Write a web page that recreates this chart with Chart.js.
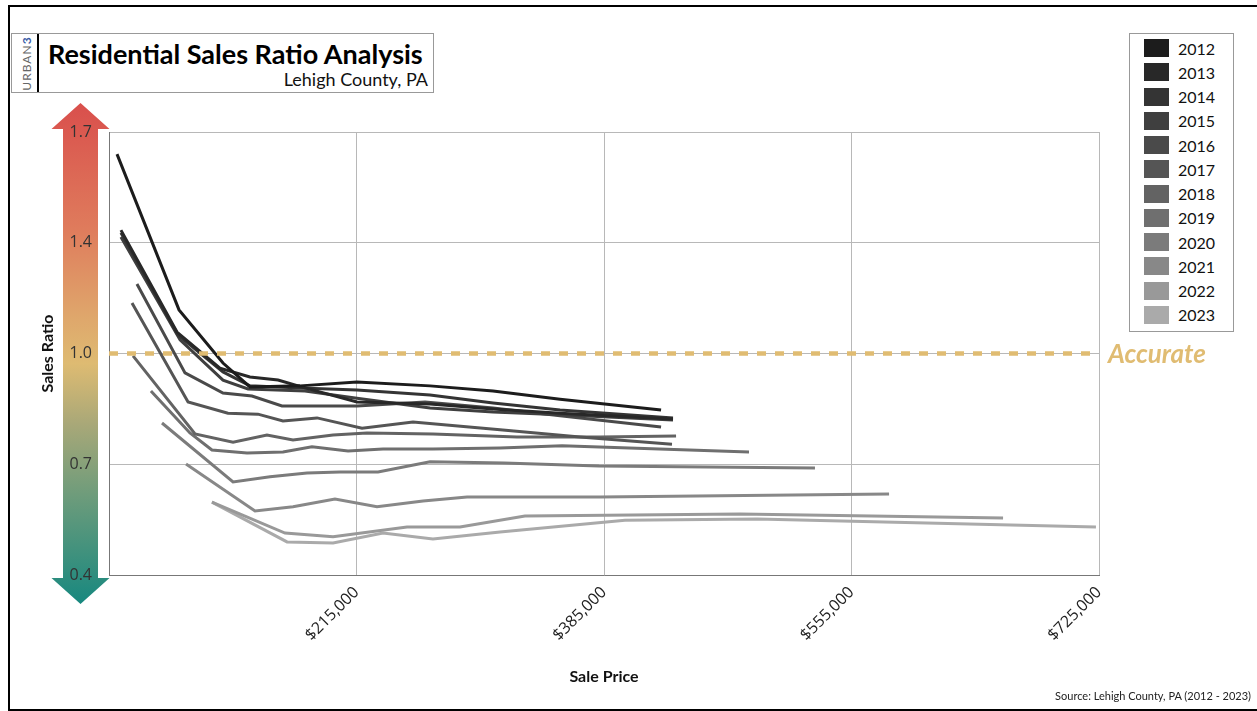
<!DOCTYPE html>
<html lang="en">
<head>
<meta charset="UTF-8">
<title>Residential Sales Ratio Analysis</title>
<script src="https://cdn.jsdelivr.net/npm/chart.js"></script>
<style>
    body { margin: 0; background: #fff; font-family: Lato, sans-serif; }
    #wrap { position: relative; width: 1257px; height: 711px; overflow: hidden; }
    #ratioChart { position: absolute; left: 0; top: 0; }
    .frame { position: absolute; left: 8px; top: 5px; width: 1260px; height: 702px; border: 2px solid #000; }
    .titlebox { position: absolute; left: 11px; top: 33px; width: 421px; height: 58px; border: 1px solid #999; background: #fff; }
    .brand { position: absolute; left: -15px; top: 22px; width: 58px; transform: rotate(-90deg); text-align: center;
             font-size: 12px; letter-spacing: 1px; color: #666; }
    .brand span { color: #3b5ca8; font-weight: bold; }
    .sep { position: absolute; left: 25px; top: 0; width: 2px; height: 58px; background: #000; }
    .title { position: absolute; left: 36px; top: 3px; font-size: 27px; font-weight: bold; color: #000; white-space: nowrap; }
    .sub { position: absolute; right: 5px; top: 34px; font-size: 18px; color: #111; }
    #legend { position: absolute; left: 1129px; top: 33px; width: 103px; height: 295px; border: 1px solid #999;
              padding-top: 2px; box-sizing: content-box; background: #fff; }
    .row { display: flex; align-items: center; height: 24.25px; font-size: 16px; color: #111; }
    .sw { width: 25px; height: 18px; margin-left: 14px; margin-right: 9px; }
    .source { position: absolute; right: 6px; top: 689px; font-size: 11px; color: #222; }
</style>
</head>
<body>
<div id="wrap">
    <div class="frame"></div>
    <canvas id="ratioChart" width="1257" height="711"></canvas>
    <div class="titlebox">
        <div class="brand">URBAN<span>3</span></div>
        <div class="sep"></div>
        <div class="title">Residential Sales Ratio Analysis</div>
        <div class="sub">Lehigh County, PA</div>
    </div>
    <div id="legend"></div>
    <div class="source">Source: Lehigh County, PA (2012 - 2023)</div>
</div>

<script>
    // [sale price, sales ratio] per year
    const sales2012 = [[50500,1.635],[93100,1.178],[123300,1.022],[141800,0.952],[176200,0.955],[215300,0.966],[265500,0.955],[308800,0.940],[354800,0.916],[424200,0.884]];
    const sales2013 = [[53200,1.412],[91700,1.113],[121200,1.007],[141800,0.981],[161100,0.972],[179600,0.949],[215300,0.908],[265500,0.902],[308800,0.887],[354800,0.875],[432400,0.858]];
    const sales2014 = [[53200,1.404],[92400,1.104],[123300,0.996],[141800,0.955],[176200,0.949],[215300,0.943],[265500,0.928],[308800,0.905],[354800,0.884],[432400,0.861]];
    const sales2015 = [[53200,1.392],[93800,1.090],[123300,0.972],[140500,0.946],[179600,0.940],[215300,0.919],[265500,0.890],[308800,0.878],[354800,0.870],[432400,0.855]];
    const sales2016 = [[64200,1.254],[97200,0.993],[123300,0.934],[143200,0.925],[163800,0.896],[215300,0.896],[262100,0.908],[308800,0.890],[354800,0.867],[424200,0.834]];
    const sales2017 = [[60800,1.198],[99300,0.908],[126700,0.875],[147300,0.872],[164500,0.852],[187900,0.861],[218800,0.831],[253800,0.849],[313600,0.826],[368500,0.805],[431700,0.784]];
    const sales2018 = [[61500,1.043],[104100,0.814],[130200,0.790],[153500,0.811],[171400,0.796],[198900,0.811],[222200,0.817],[267500,0.814],[325200,0.805],[382300,0.805],[434500,0.808]];
    const sales2019 = [[73800,0.940],[100600,0.817],[115700,0.767],[139800,0.758],[164500,0.761],[184400,0.776],[209200,0.764],[233200,0.770],[267500,0.770],[313600,0.773],[356200,0.779],[484600,0.761]];
    const sales2020 = [[81400,0.846],[130200,0.673],[155600,0.688],[181000,0.699],[203700,0.702],[229800,0.702],[265500,0.732],[316300,0.729],[381600,0.720],[529900,0.714]];
    const sales2021 = [[97900,0.726],[145300,0.588],[171400,0.600],[200200,0.623],[229100,0.600],[260700,0.617],[290900,0.629],[382300,0.629],[580800,0.638]];
    const sales2022 = [[115700,0.614],[165900,0.523],[198900,0.512],[249700,0.541],[286100,0.541],[330700,0.573],[478400,0.579],[659100,0.567]];
    const sales2023 = [[115700,0.614],[167300,0.497],[198900,0.494],[233200,0.523],[267500,0.506],[313600,0.526],[399400,0.561],[490100,0.564],[722900,0.541]];

    const years = ['2012','2013','2014','2015','2016','2017','2018','2019','2020','2021','2022','2023'];
    const yearColors = ['#1c1c1c','#282828','#343434','#3f3f3f','#4a4a4a','#555555','#636363','#6f6f6f','#7b7b7b','#888888','#999999','#aaaaaa'];
    const allSales = [sales2012, sales2013, sales2014, sales2015, sales2016, sales2017, sales2018, sales2019, sales2020, sales2021, sales2022, sales2023];

    const yTickValues = [0.4, 0.725, 1.05, 1.375, 1.7];
    const yTickLabels = ['0.4', '0.7', '1.0', '1.4', '1.7'];
    const xTickValues = [45000, 215000, 385000, 555000, 725000];
    const xTickLabels = ['', '$215,000', '$385,000', '$555,000', '$725,000'];
    const accurateLevel = 1.05;   // sits on the gridline labelled 1.0

    const datasets = years.map((yr, i) => ({
        label: yr,
        data: allSales[i].map(p => ({ x: p[0], y: p[1] })),
        borderColor: yearColors[i],
        borderWidth: 3,
        pointRadius: 0,
        tension: 0,
        fill: false
    }));
    datasets.push({
        label: 'Accurate',
        data: [{ x: xTickValues[0], y: accurateLevel }, { x: xTickValues[xTickValues.length - 1], y: accurateLevel }],
        borderColor: '#e0bc72',
        borderWidth: 4.5,
        borderDash: [9, 9],
        pointRadius: 0,
        order: -1
    });

    // coloured arrow behind the y ticks + "Accurate" tag
    const decor = {
        id: 'decor',
        beforeDraw(chart) {
            const { ctx, chartArea } = chart;
            const cx = chartArea.left - 28.5, half = 17.5, head = 29;
            const top = chartArea.top - 3, bot = chartArea.bottom + 3;
            const g = ctx.createLinearGradient(0, top - 26, 0, bot + 26);
            g.addColorStop(0, '#d94f4c');
            g.addColorStop(0.25, '#df7b5c');
            g.addColorStop(0.42, '#dfa56b');
            g.addColorStop(0.52, '#debb72');
            g.addColorStop(0.64, '#a9a878');
            g.addColorStop(0.78, '#6f9c7b');
            g.addColorStop(1, '#17887f');
            ctx.save();
            ctx.fillStyle = g;
            ctx.beginPath();
            ctx.moveTo(cx, top - 26);
            ctx.lineTo(cx + head, top);
            ctx.lineTo(cx + half, top);
            ctx.lineTo(cx + half, bot);
            ctx.lineTo(cx + head, bot);
            ctx.lineTo(cx, bot + 26);
            ctx.lineTo(cx - head, bot);
            ctx.lineTo(cx - half, bot);
            ctx.lineTo(cx - half, top);
            ctx.lineTo(cx - head, top);
            ctx.closePath();
            ctx.fill();
            ctx.restore();
        },
        afterDatasetsDraw(chart) {
            const { ctx, chartArea, scales } = chart;
            ctx.save();
            ctx.font = 'italic bold 26px Lato';
            ctx.fillStyle = '#e0bc72';
            ctx.textBaseline = 'middle';
            ctx.fillText('Accurate', chartArea.right + 9, scales.y.getPixelForValue(accurateLevel) + 1);
            ctx.restore();
        }
    };

    new Chart(document.getElementById('ratioChart'), {
        type: 'line',
        data: { datasets: datasets },
        plugins: [decor],
        options: {
            responsive: false,
            animation: false,
            layout: { padding: { left: 10, top: 132, right: 158, bottom: 0 } },
            plugins: { legend: { display: false }, tooltip: { enabled: false } },
            scales: {
                x: {
                    type: 'linear', min: 45000, max: 725000,
                    afterBuildTicks: s => { s.ticks = xTickValues.map(v => ({ value: v })); },
                    afterFit: s => { s.height = 136; },
                    ticks: { callback: (v, i) => xTickLabels[i], minRotation: 45, maxRotation: 45, padding: 8,
                             color: '#222', font: { family: 'Open Sans', size: 16 } },
                    grid: { color: '#b8b8b8', drawTicks: false },
                    border: { color: '#777' },
                    title: { display: true, text: 'Sale Price', color: '#111',
                             font: { family: 'Lato', size: 16, weight: 'bold' }, padding: { top: 0, bottom: 25 } }
                },
                y: {
                    type: 'linear', min: 0.4, max: 1.7,
                    afterBuildTicks: s => { s.ticks = yTickValues.map(v => ({ value: v })); },
                    afterFit: s => { s.width = 99; },
                    ticks: { callback: (v, i) => yTickLabels[i], padding: 17, color: '#333',
                             font: { family: 'Open Sans', size: 16 } },
                    grid: { color: '#b8b8b8', drawTicks: false },
                    border: { color: '#777' },
                    title: { display: true, text: 'Sales Ratio', color: '#111',
                             font: { family: 'Lato', size: 16, weight: 'bold' }, padding: { top: 28, bottom: 0 } }
                }
            }
        }
    });

    // legend box
    const legend = document.getElementById('legend');
    years.forEach((yr, i) => {
        const row = document.createElement('div');
        row.className = 'row';
        row.innerHTML = '<div class="sw" style="background:' + yearColors[i] + '"></div>' + yr;
        legend.appendChild(row);
    });
</script>
</body>
</html>
